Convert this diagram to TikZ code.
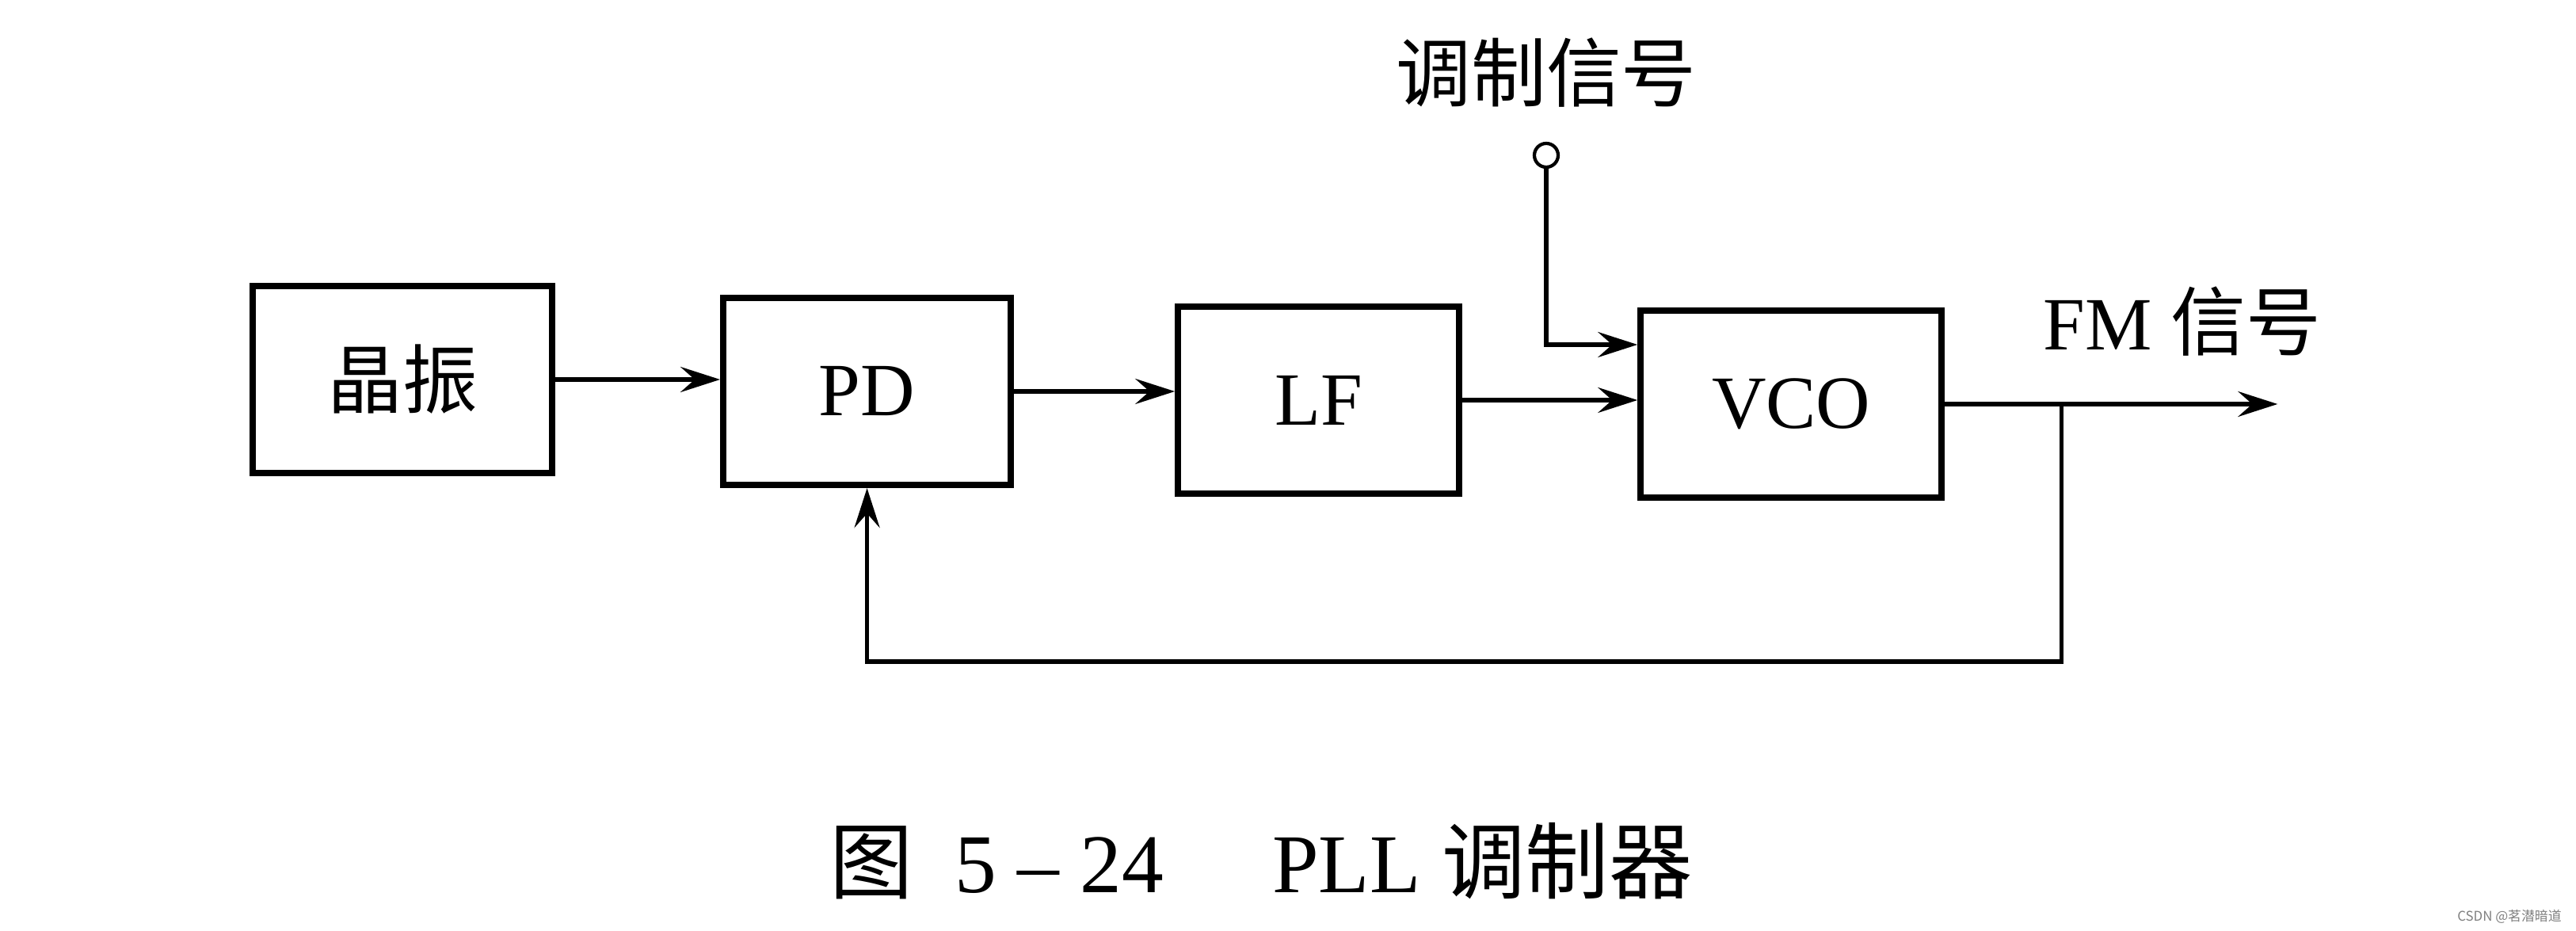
\documentclass[tikz,border=0pt]{standalone}
\usepackage{fontspec}
\setmainfont{Liberation Serif}
\newfontfamily\cjk{Noto Sans CJK SC}
\usetikzlibrary{arrows.meta,positioning}

\begin{document}
\begin{tikzpicture}[
  font=\fontsize{27}{30}\selectfont,
  box/.style={draw, line width=2.3pt, align=center, minimum height=2.36cm},
  arrow/.style={-{Stealth[length=5mm,width=3.2mm,inset=1.8mm]}, line width=1.5pt}
]
\useasboundingbox (0,0) rectangle (32.52,11.75);

\node[box, minimum width=3.78cm] (xtal) at (5.08,6.96) {\cjk 晶振};
\node[box, minimum width=3.63cm, right=2.08cm of xtal, yshift=-0.15cm] (pd) {PD};
\node[box, minimum width=3.55cm, right=2.03cm of pd, yshift=-0.11cm] (lf) {LF};
\node[box, minimum width=3.8cm, right=2.21cm of lf, yshift=-0.05cm] (vco) {VCO};

% modulation input
\node[circle, draw, line width=1.2pt, inner sep=0pt, minimum size=0.3cm] (mod) at (19.52,9.79) {};
\node (modlbl) at (19.52,10.83) {\cjk 调制信号};

% output and feedback
\coordinate (tap) at ([xshift=1.47cm]vco.east);
\coordinate (out) at ([xshift=4.2cm]vco.east);
\coordinate (fb) at ([yshift=-3.25cm]tap);
\node (fmlbl) at (27.55,7.69) {FM {\cjk 信号}};

\node[font=\fontsize{30}{32}\selectfont] (cap) at (15.92,0.88) {{\cjk 图}\enspace5 -- 24\hspace{1.3em}PLL {\cjk 调制器}};
\node[font=\cjk\fontsize{4.8}{6}\selectfont, text=black!50] (mark) at (31.68,0.18) {CSDN @茗潜暗道};

\draw[arrow] (xtal.east) -- (xtal.east -| pd.west);
\draw[arrow] (pd.east) -- (pd.east -| lf.west);
\draw[arrow] (lf.east) -- (lf.east -| vco.west);
\draw[arrow] (mod.south) |- ([yshift=0.75cm]vco.west);
\draw[arrow] (vco.east) -- (out);
\draw[arrow] (tap) -- (fb) -| (pd.south);
\end{tikzpicture}
\end{document}
